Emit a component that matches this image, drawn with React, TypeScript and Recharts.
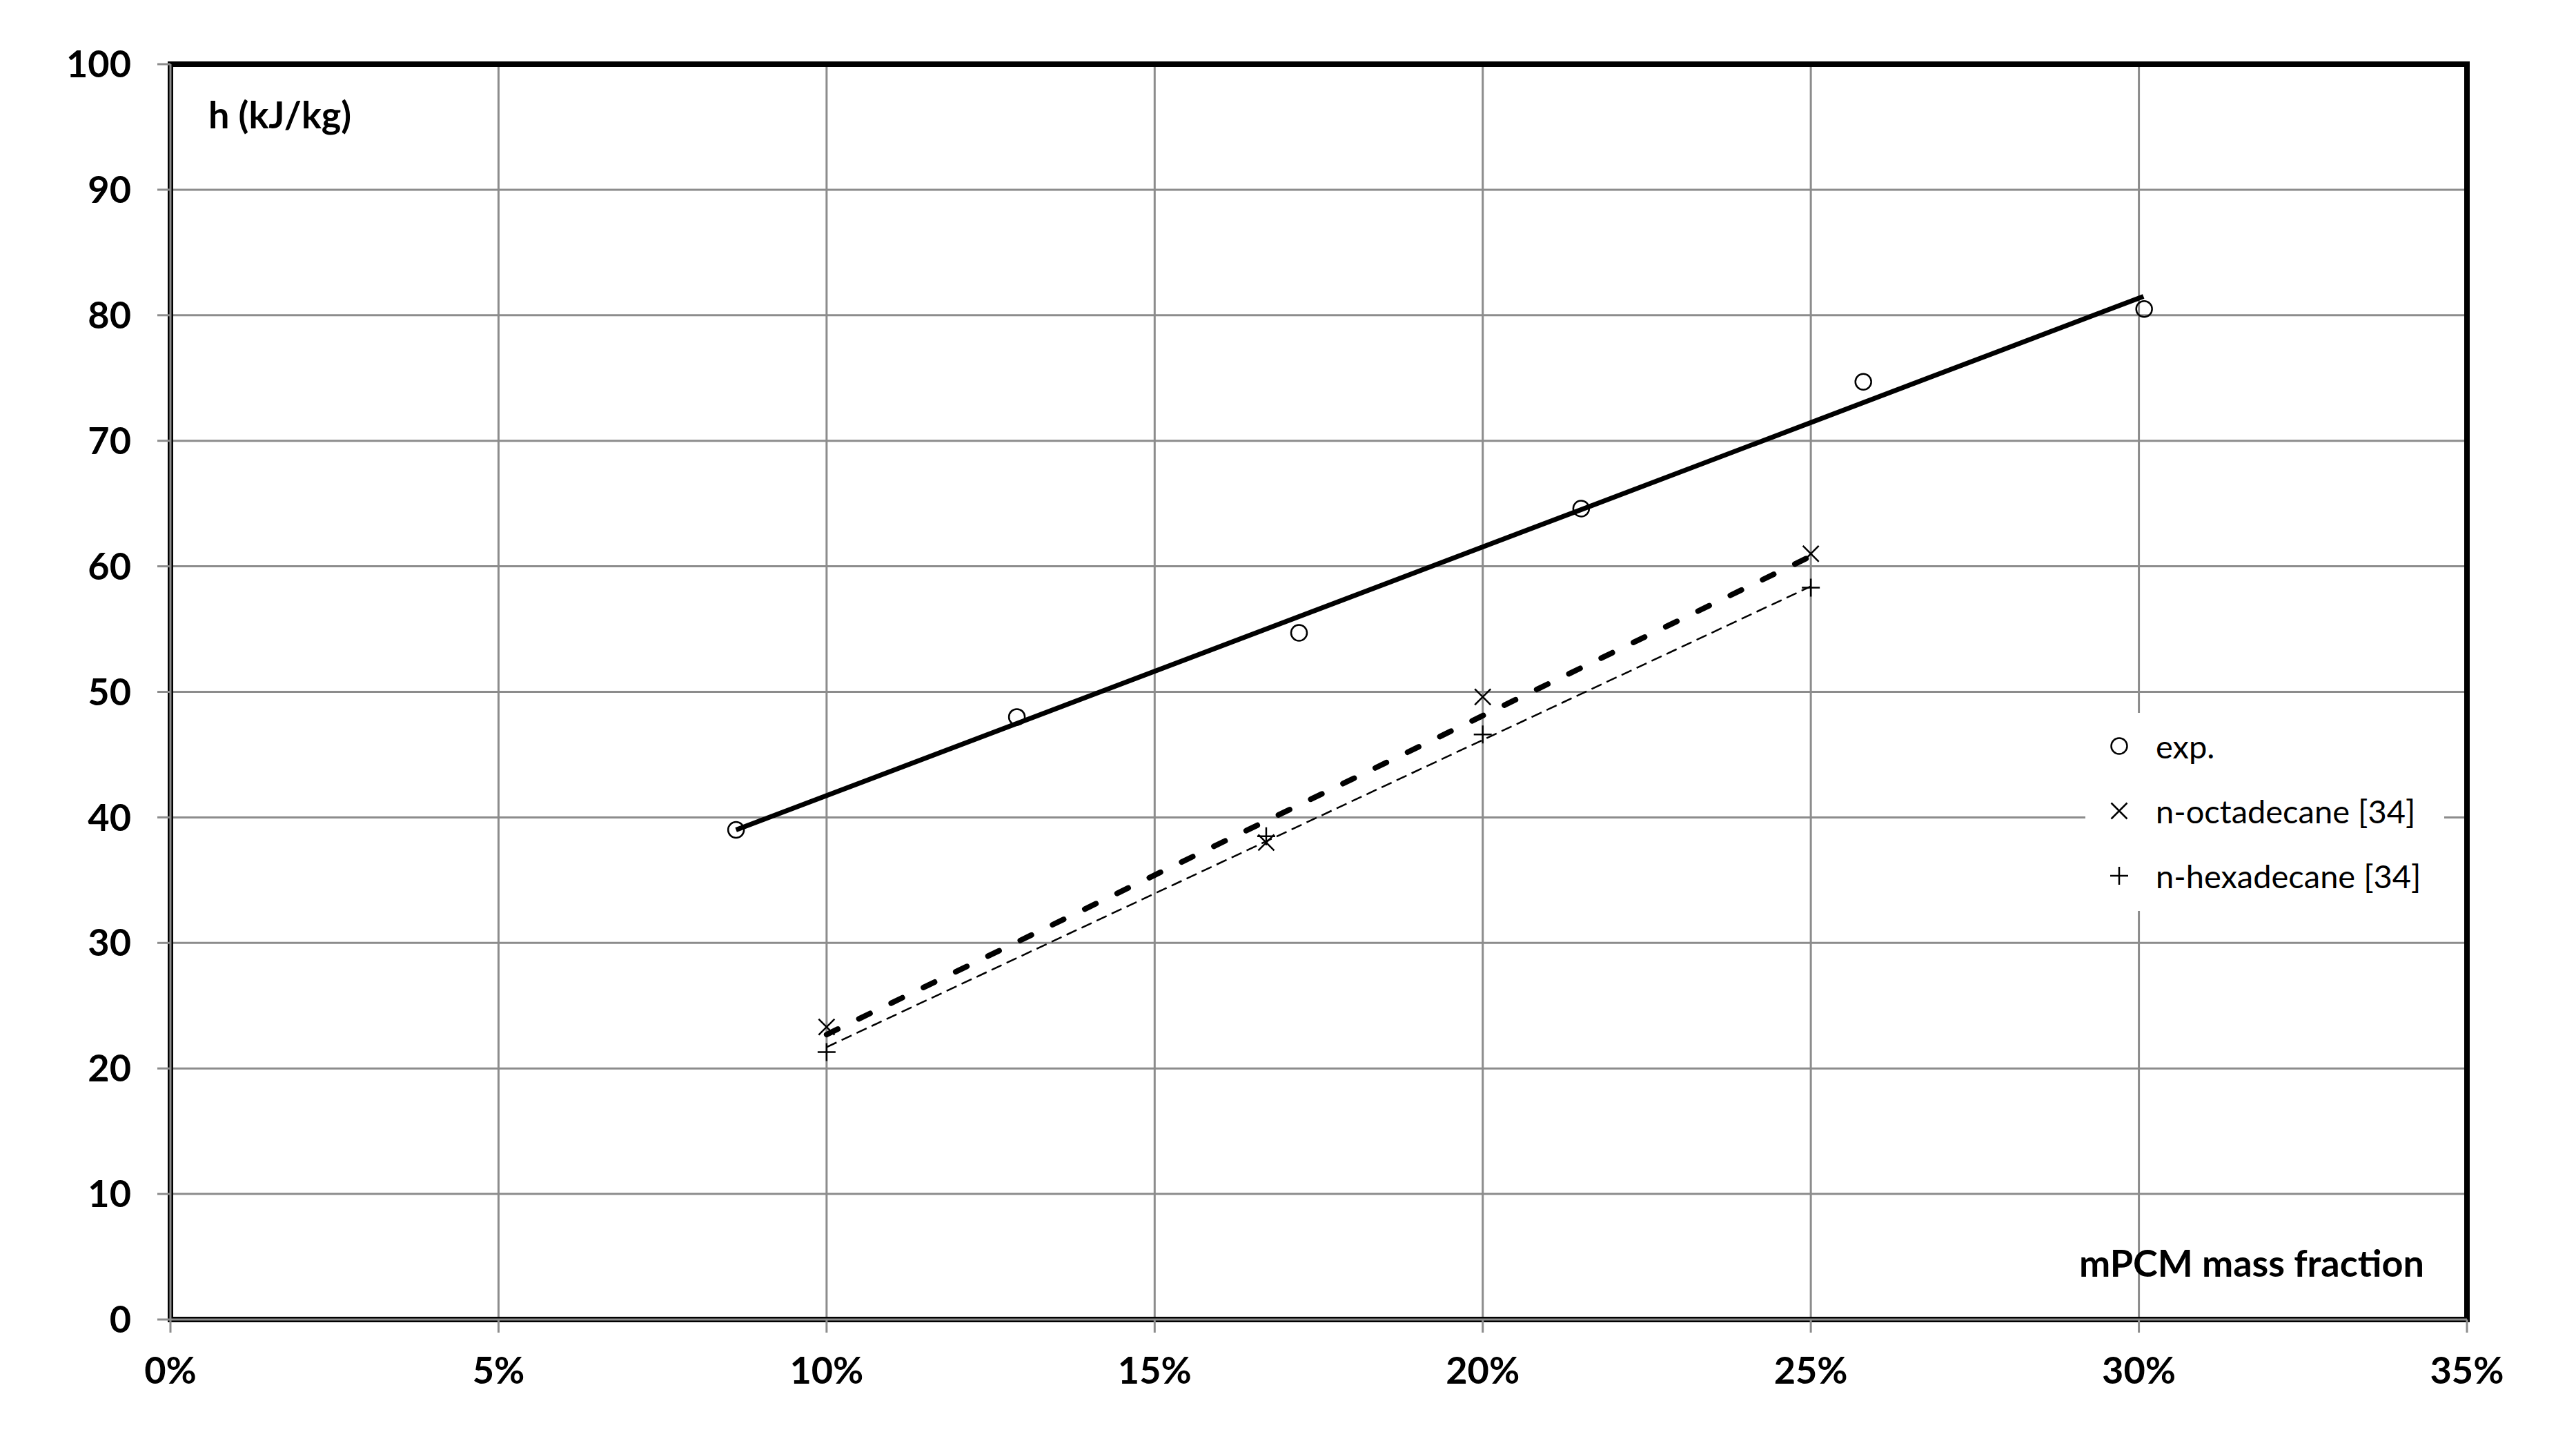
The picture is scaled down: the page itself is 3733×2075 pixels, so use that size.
import {
	ScatterChart,
	Scatter,
	XAxis,
	YAxis,
	CartesianGrid,
	ReferenceArea,
	Legend,
} from 'recharts';

// mPCM mass fraction (%) and enthalpy h (kJ/kg)
const expX = [8.62, 12.9, 17.2, 21.5, 25.8, 30.08];
const expH = [39.0, 48.0, 54.7, 64.6, 74.7, 80.5];
const octX = [10, 16.7, 20, 25];
const octH = [23.3, 38.0, 49.6, 61.0];
const hexX = [10, 16.7, 20, 25];
const hexH = [21.3, 38.5, 46.6, 58.3];

// fitted lines (end points)
const expFitX = [8.62, 30.07];
const expFitH = [39.0, 81.5];
const octFitX = [10, 25];
const octFitH = [22.7, 60.8];
const hexFitX = [10, 25];
const hexFitH = [21.7, 58.4];

const xTicks = [0, 5, 10, 15, 20, 25, 30, 35];
const yTicks = [0, 10, 20, 30, 40, 50, 60, 70, 80, 90, 100];
const legendNames = ['exp.', 'n-octadecane [34]', 'n-hexadecane [34]'];

const zip = (xs: number[], ys: number[]) => xs.map((x, i) => ({ x, y: ys[i] }));

const FONT = 'Lato, "Open Sans", sans-serif';
const GRID = '#8c8c8c';

const Ring = (p: any) => (
	<circle cx={p.cx} cy={p.cy} r={11.5} fill='none' stroke='#000' strokeWidth={2.5} />
);
const Cross = (p: any) => (
	<path
		d={`M${p.cx - 11.5},${p.cy - 11.5}L${p.cx + 11.5},${p.cy + 11.5}M${p.cx - 11.5},${p.cy + 11.5}L${p.cx + 11.5},${p.cy - 11.5}`}
		stroke='#000'
		strokeWidth={2.5}
	/>
);
const Plus = (p: any) => (
	<path
		d={`M${p.cx - 13},${p.cy}L${p.cx + 13},${p.cy}M${p.cx},${p.cy - 13}L${p.cx},${p.cy + 13}`}
		stroke='#000'
		strokeWidth={2.5}
	/>
);
const NoDot = () => <g />;

const markers = [Ring, Cross, Plus];

const renderLegend = () => (
	<div style={{ background: '#fff', width: 520, height: 287, paddingTop: 1, boxSizing: 'border-box' }}>
		{legendNames.map((name, i) => {
			const M = markers[i];
			return (
				<div key={name} style={{ display: 'flex', alignItems: 'center', height: 94 }}>
					<svg width={98} height={40} style={{ flex: 'none' }}>
						<M cx={49} cy={20} />
					</svg>
					<span style={{ fontFamily: FONT, fontSize: 47, color: '#000', marginLeft: 4 }}>{name}</span>
				</div>
			);
		})}
	</div>
);

const tickStyle = { fontFamily: FONT, fontWeight: 700, fontSize: 54, fill: '#000' };

const App = () => {
	return (
		<div style={{ position: 'absolute', left: 0, top: 0, background: '#fff' }}>
			<ScatterChart width={3733} height={2075} margin={{ top: 93, right: 158, bottom: 63, left: 0 }}>
				<CartesianGrid stroke={GRID} strokeWidth={3} />
				<XAxis
					type='number'
					dataKey='x'
					domain={[0, 35]}
					ticks={xTicks}
					interval={0}
					tickFormatter={(v) => `${v}%`}
					height={100}
					tickSize={19}
					tickMargin={36}
					axisLine={{ stroke: GRID, strokeWidth: 3 }}
					tickLine={{ stroke: GRID, strokeWidth: 3 }}
					tick={tickStyle}
				/>
				<YAxis
					type='number'
					dataKey='y'
					domain={[0, 100]}
					ticks={yTicks}
					interval={0}
					width={247}
					tickSize={19}
					tickMargin={38}
					axisLine={{ stroke: GRID, strokeWidth: 3 }}
					tickLine={{ stroke: GRID, strokeWidth: 3 }}
					tick={tickStyle}
				/>
				<Legend
					layout='vertical'
					align='center'
					verticalAlign='middle'
					content={renderLegend}
					wrapperStyle={{ left: 3022, top: 1033, width: 520, height: 287 }}
				/>
				<Scatter
					name='exp. fit'
					data={zip(expFitX, expFitH)}
					shape={NoDot}
					legendType='none'
					line={{ stroke: '#000', strokeWidth: 7 }}
					isAnimationActive={false}
				/>
				<Scatter
					name='n-octadecane fit'
					data={zip(octFitX, octFitH)}
					shape={NoDot}
					legendType='none'
					line={{ stroke: '#000', strokeWidth: 8, strokeDasharray: '18 34', strokeLinecap: 'round' }}
					isAnimationActive={false}
				/>
				<Scatter
					name='n-hexadecane fit'
					data={zip(hexFitX, hexFitH)}
					shape={NoDot}
					legendType='none'
					line={{ stroke: '#000', strokeWidth: 2.5, strokeDasharray: '16 8' }}
					isAnimationActive={false}
				/>
				<Scatter name='exp.' data={zip(expX, expH)} shape={Ring} isAnimationActive={false} />
				<Scatter name='n-octadecane [34]' data={zip(octX, octH)} shape={Cross} isAnimationActive={false} />
				<Scatter name='n-hexadecane [34]' data={zip(hexX, hexH)} shape={Plus} isAnimationActive={false} />
				<ReferenceArea
					x1={0}
					x2={35}
					y1={0}
					y2={100}
					fill='none'
					stroke='#000'
					strokeWidth={8}
					label={{ value: 'h (kJ/kg)', position: 'insideTopLeft', offset: 55, ...tickStyle }}
				/>
				<ReferenceArea
					x1={0}
					x2={35}
					y1={0}
					y2={100}
					fill='none'
					stroke='none'
					label={{ value: 'mPCM mass fraction', position: 'insideBottomRight', offset: 62, ...tickStyle }}
				/>
			</ScatterChart>
		</div>
	);
};

export default App;
